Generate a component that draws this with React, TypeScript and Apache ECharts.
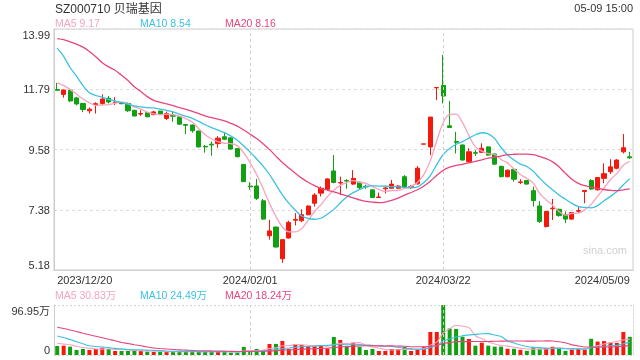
import { useEffect, useRef } from 'react';
import * as echarts from 'echarts';

const dates = [
  '2023/12/20', '2023/12/21', '2023/12/22', '2023/12/25', '2023/12/26', '2023/12/27', '2023/12/28', '2023/12/29',
  '2024/01/02', '2024/01/03', '2024/01/04', '2024/01/05', '2024/01/08', '2024/01/09', '2024/01/10', '2024/01/11',
  '2024/01/12', '2024/01/15', '2024/01/16', '2024/01/17', '2024/01/18', '2024/01/19', '2024/01/22', '2024/01/23',
  '2024/01/24', '2024/01/25', '2024/01/26', '2024/01/29', '2024/01/30', '2024/01/31',
  '2024/02/01', '2024/02/02', '2024/02/05', '2024/02/06', '2024/02/07', '2024/02/08', '2024/02/19', '2024/02/20',
  '2024/02/21', '2024/02/22', '2024/02/23', '2024/02/26', '2024/02/27', '2024/02/28', '2024/02/29',
  '2024/03/01', '2024/03/04', '2024/03/05', '2024/03/06', '2024/03/07', '2024/03/08', '2024/03/11', '2024/03/12',
  '2024/03/13', '2024/03/14', '2024/03/15', '2024/03/18', '2024/03/19', '2024/03/20', '2024/03/21', '2024/03/22',
  '2024/03/25', '2024/03/26', '2024/03/27', '2024/03/28', '2024/03/29',
  '2024/04/01', '2024/04/02', '2024/04/03', '2024/04/08', '2024/04/09', '2024/04/10', '2024/04/11', '2024/04/12',
  '2024/04/15', '2024/04/16', '2024/04/17', '2024/04/18', '2024/04/19', '2024/04/22', '2024/04/23', '2024/04/24',
  '2024/04/25', '2024/04/26', '2024/04/29', '2024/04/30',
  '2024/05/06', '2024/05/07', '2024/05/08', '2024/05/09',
];

const opens = [
  11.78, 11.60, 11.75, 11.47, 11.27, 11.00, 11.23, 11.27, 11.46, 11.30,
  11.30, 11.27, 11.02, 10.88, 10.93, 10.86, 10.99, 10.72, 10.84, 10.78,
  10.50, 10.48, 10.26, 9.70, 9.78, 9.80, 10.05, 10.01, 9.62, 9.04,
  8.25, 8.25, 7.71, 6.43, 6.75, 5.59, 6.35, 7.00, 6.98, 7.20,
  7.62, 7.99, 8.13, 8.80, 8.36, 8.45, 8.32, 8.39, 8.24, 8.11,
  7.83, 8.15, 8.17, 8.17, 8.59, 8.20, 8.33, 9.78, 9.68, 11.84,
  11.93, 10.45, 9.88, 9.75, 9.14, 9.47, 9.48, 9.68, 9.42, 8.97,
  8.59, 8.86, 8.38, 8.45, 8.08, 7.52, 6.77, 7.42, 7.40, 7.20,
  7.04, 7.33, 8.05, 8.45, 8.11, 8.53, 8.77, 8.90, 9.50, 9.32,
];

const closes = [
  11.75, 11.76, 11.36, 11.25, 11.05, 11.06, 11.26, 11.43, 11.32, 11.32,
  11.26, 11.00, 10.81, 10.90, 10.78, 10.96, 10.86, 10.90, 10.80, 10.51,
  10.47, 10.27, 9.68, 9.68, 9.75, 10.00, 9.96, 9.60, 9.32, 8.41,
  8.22, 7.80, 7.04, 6.61, 6.02, 6.29, 6.92, 7.03, 7.20, 7.52,
  7.92, 8.17, 8.51, 8.38, 8.38, 8.43, 8.53, 8.19, 8.22, 7.83,
  7.85, 8.18, 8.32, 8.25, 8.20, 8.23, 8.90, 9.79, 10.77, 11.85,
  11.54, 10.39, 9.85, 9.20, 9.50, 9.45, 9.63, 9.38, 9.05, 8.59,
  8.83, 8.50, 8.40, 8.32, 7.72, 6.95, 7.32, 7.44, 7.17, 7.04,
  7.28, 7.35, 8.09, 8.14, 8.56, 8.70, 8.95, 9.20, 9.65, 9.28,
];

const lows = [
  11.74, 11.48, 11.32, 11.20, 10.95, 10.90, 10.90, 11.22, 11.27, 11.21,
  11.24, 10.96, 10.80, 10.81, 10.76, 10.84, 10.85, 10.66, 10.60, 10.49,
  10.15, 10.20, 9.66, 9.47, 9.36, 9.65, 9.93, 9.58, 9.30, 8.40,
  8.11, 7.74, 7.01, 6.29, 6.00, 5.44, 6.33, 6.81, 6.93, 7.18,
  7.50, 7.87, 8.10, 8.35, 7.92, 8.15, 8.29, 8.11, 8.15, 7.82,
  7.81, 7.98, 8.15, 8.14, 8.16, 8.15, 8.30, 9.78, 9.38, 11.39,
  11.27, 10.39, 9.44, 9.18, 9.12, 9.35, 9.46, 9.36, 9.03, 8.57,
  8.57, 8.41, 8.32, 8.30, 7.50, 6.90, 6.73, 7.01, 7.13, 6.89,
  7.02, 7.26, 7.62, 8.11, 8.09, 8.35, 8.69, 8.86, 9.44, 9.24,
];

const highs = [
  12.02, 11.78, 11.77, 11.51, 11.28, 11.12, 11.31, 11.60, 11.54, 11.50,
  11.31, 11.31, 11.03, 11.02, 10.95, 11.00, 11.00, 10.96, 10.96, 10.80,
  10.51, 10.50, 10.27, 9.75, 9.88, 10.07, 10.20, 10.02, 9.64, 9.06,
  8.39, 8.51, 7.78, 7.01, 6.77, 6.30, 6.98, 7.26, 7.40, 7.54,
  7.99, 8.23, 8.53, 9.38, 8.59, 8.50, 8.83, 8.41, 8.30, 8.12,
  8.01, 8.22, 8.47, 8.28, 8.65, 8.28, 8.98, 9.79, 10.77, 11.85,
  13.04, 11.36, 10.23, 9.77, 9.63, 9.56, 9.81, 9.70, 9.44, 8.99,
  8.85, 8.88, 8.50, 8.47, 8.23, 7.70, 7.34, 7.78, 7.42, 7.32,
  7.30, 7.48, 8.09, 8.50, 8.58, 9.08, 9.23, 9.23, 10.15, 9.50,
];

// volume in 万
const volumes = [
  17.4, 18.1, 16.2, 9.7, 11.6, 9.7, 11.6, 14.2, 11.6, 7.8,
  7.8, 7.8, 9.7, 7.8, 6.5, 5.8, 6.5, 6.5, 6.5, 6.5,
  6.5, 6.5, 6.5, 6.5, 6.5, 6.5, 6.5, 4.5, 4.5, 15.5,
  6.5, 11.6, 8.4, 21.3, 21.3, 27.1, 11.6, 20.7, 19.4, 16.2,
  18.1, 18.1, 12.9, 34.9, 29.1, 16.2, 23.9, 15.5, 9.7, 11.6,
  7.8, 7.8, 11.6, 11.6, 15.5, 7.8, 11.0, 16.2, 44.6, 44.6,
  96.95, 51.7, 50.4, 35.5, 31.0, 18.1, 23.9, 18.1, 16.2, 16.2,
  12.0, 12.0, 10.0, 8.0, 15.0, 12.0, 13.5, 16.0, 13.5, 8.0,
  10.5, 12.0, 10.8, 31.5, 26.0, 27.0, 24.0, 23.5, 44.5, 35.2,
];

// sessions before the first visible day (only feed the moving averages)
const priorCloses = [12.6, 12.9, 13.0, 13.2, 14.2, 15.1, 15.9, 14.3, 13.8, 14.9, 14.8, 15.4, 14.4, 14.5, 13.7, 12.25, 12.05, 12.15, 11.9];
const priorVolumes = [66, 72, 70, 75, 68, 74, 70, 72, 66, 73, 48, 55, 50, 52, 49, 26, 22, 25, 23];

const priceTickLabels = ['5.18', '7.38', '9.58', '11.79', '13.99'];
const priceMin = 5.18;
const priceMax = 13.99;
const volumeMax = 96.95;
const shownDates = ['2023/12/20', '2024/02/01', '2024/03/22', '2024/05/09'];
const markedDates = ['2024/02/01', '2024/03/22'];
const title = 'SZ000710 贝瑞基因';
const stamp = '05-09 15:00';
const priceLegend = ['MA5 9.17', 'MA10 8.54', 'MA20 8.16'];
const volumeLegend = ['MA5 30.83万', 'MA10 24.49万', 'MA20 18.24万'];

const RED = '#f4190d';
const GREEN = '#11a011';
const MA_COLORS = ['#f7a3c0', '#3cc1e2', '#e8457c'];
const FONT = '"Liberation Sans", Arial, "Noto Sans CJK SC", sans-serif';

function movingAverage(values: number[], prior: number[], n: number): number[] {
  const all = prior.concat(values);
  return values.map((_, i) => {
    const end = prior.length + i;
    let s = 0;
    for (let k = end - n + 1; k <= end; k++) s += all[k];
    return Math.round((s / n) * 1000) / 1000;
  });
}

export default function App() {
  const ref = useRef<HTMLDivElement>(null);

  useEffect(() => {
    if (!ref.current) return;
    const chart = echarts.init(ref.current, undefined, { renderer: 'svg' });

    const candleData = dates.map((_, i) => [opens[i], closes[i], lows[i], highs[i]]);
    const periods = [5, 10, 20];
    const priceMAs = periods.map((p) => movingAverage(closes, priorCloses, p));
    const volMAs = periods.map((p) => movingAverage(volumes, priorVolumes, p));
    const interval = (priceMax - priceMin) / 4;

    const markLine = {
      silent: true,
      symbol: ['none', 'none'],
      label: { show: false },
      lineStyle: { color: '#cfcfcf', type: [3, 3], width: 1 },
      data: markedDates.map((d) => ({ xAxis: d })),
      animation: false,
    };

    const legendTexts: any[] = [];
    const legendX = [55, 140, 225];
    priceLegend.forEach((t, i) =>
      legendTexts.push({
        type: 'text', x: legendX[i], y: 23,
        style: { text: t, fill: MA_COLORS[i], font: `10.5px ${FONT}`, align: 'left', verticalAlign: 'middle', textAlign: 'left', textVerticalAlign: 'middle' },
      })
    );
    volumeLegend.forEach((t, i) =>
      legendTexts.push({
        type: 'text', x: legendX[i], y: 295,
        style: { text: t, fill: MA_COLORS[i], font: `10.5px ${FONT}`, align: 'left', verticalAlign: 'middle', textAlign: 'left', textVerticalAlign: 'middle' },
      })
    );

    const option: any = {
      animation: false,
      textStyle: { fontFamily: FONT },
      grid: [
        { left: 54, right: 7, top: 29, height: 241, show: true, borderColor: '#cccccc', borderWidth: 1, containLabel: false },
        { left: 54, right: 7, top: 305, height: 50, show: false, containLabel: false },
      ],
      xAxis: [
        {
          type: 'category', gridIndex: 0, data: dates, boundaryGap: true,
          axisLine: { show: true, lineStyle: { color: '#cccccc' } },
          axisTick: { show: false },
          splitLine: { show: false },
          axisLabel: {
            interval: (_i: number, v: string) => shownDates.includes(v),
            color: '#333', fontSize: 11, margin: 4, fontFamily: FONT,
            alignMinLabel: 'left', alignMaxLabel: 'right',
          },
        },
        {
          type: 'category', gridIndex: 1, data: dates, boundaryGap: true,
          axisLine: { show: false }, axisTick: { show: false }, axisLabel: { show: false }, splitLine: { show: false },
        },
      ],
      yAxis: [
        {
          type: 'value', gridIndex: 0, min: priceMin, max: priceMax, interval,
          axisLine: { show: true, lineStyle: { color: '#cccccc' } },
          axisTick: { show: false },
          splitLine: { show: true, lineStyle: { color: '#dddddd', type: [3, 3], width: 1 } },
          axisLabel: {
            color: '#333', fontSize: 11, margin: 4, fontFamily: FONT,
            verticalAlignMinLabel: 'bottom', verticalAlignMaxLabel: 'top',
            formatter: (v: number) => priceTickLabels[Math.round((v - priceMin) / interval)] ?? '',
          },
        },
        {
          type: 'value', gridIndex: 1, min: 0, max: volumeMax, interval: volumeMax,
          axisLine: { show: true, lineStyle: { color: '#cccccc' } },
          axisTick: { show: false },
          splitLine: { show: true, lineStyle: { color: '#d6d6d6', type: [2, 2], width: 1 } },
          axisLabel: {
            color: '#333', fontSize: 11, margin: 4, fontFamily: FONT,
            verticalAlignMinLabel: 'bottom', verticalAlignMaxLabel: 'top',
            formatter: (v: number) => (v === 0 ? '0' : v.toFixed(2) + '万'),
          },
        },
        {
          type: 'value', gridIndex: 1, position: 'right', min: 0, max: volumeMax,
          axisLine: { show: true, lineStyle: { color: '#d6d6d6', type: [2, 2] } },
          axisTick: { show: false }, axisLabel: { show: false }, splitLine: { show: false },
        },
      ],
      series: [
        {
          type: 'candlestick', xAxisIndex: 0, yAxisIndex: 0, data: candleData, barWidth: '72%',
          itemStyle: { color: RED, color0: GREEN, borderColor: RED, borderColor0: GREEN, borderWidth: 1 },
          markLine,
        },
        ...priceMAs.map((d, i) => ({
          type: 'line', xAxisIndex: 0, yAxisIndex: 0, data: d, showSymbol: false, symbol: 'none', smooth: 0.3,
          lineStyle: { color: MA_COLORS[i], width: 1.3 }, silent: true, z: 3,
        })),
        {
          type: 'bar', xAxisIndex: 1, yAxisIndex: 1, data: volumes, barWidth: '62%',
          itemStyle: { color: (p: any) => (closes[p.dataIndex] >= opens[p.dataIndex] ? RED : GREEN) },
          markLine,
        },
        ...volMAs.map((d, i) => ({
          type: 'line', xAxisIndex: 1, yAxisIndex: 1, data: d, showSymbol: false, symbol: 'none', smooth: 0.3,
          lineStyle: { color: MA_COLORS[i], width: 1.1 }, silent: true, z: 3,
        })),
      ],
      graphic: [
        {
          type: 'text', x: 55, y: 8.5,
          style: { text: title, fill: '#333', font: `12px ${FONT}`, align: 'left', verticalAlign: 'middle', textAlign: 'left', textVerticalAlign: 'middle' },
        },
        {
          type: 'text', x: 633, y: 7.5,
          style: { text: stamp, fill: '#333', font: `11px ${FONT}`, align: 'right', verticalAlign: 'middle', textAlign: 'right', textVerticalAlign: 'middle' },
        },
        {
          type: 'text', x: 627, y: 250,
          style: { text: 'sina.com', fill: '#d0d0d0', font: `11px ${FONT}`, align: 'right', verticalAlign: 'middle', textAlign: 'right', textVerticalAlign: 'middle' },
        },
        ...legendTexts,
      ],
    };

    chart.setOption(option);
    return () => chart.dispose();
  }, []);

  return <div ref={ref} style={{ position: 'fixed', left: 0, top: 0, width: 640, height: 360 }} />;
}
